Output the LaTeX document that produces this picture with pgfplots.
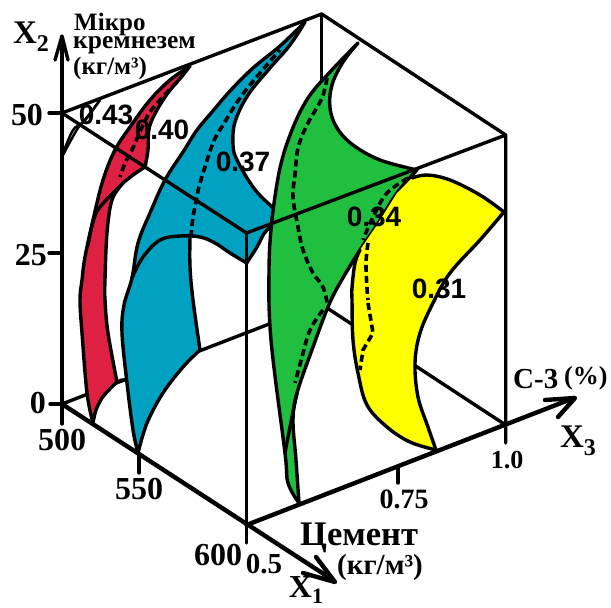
\documentclass[border=0pt]{standalone}
\usepackage{fontspec}
\setmainfont{Liberation Serif}
\newfontfamily\arial{Liberation Sans}
\usepackage{pgfplots}
\pgfplotsset{compat=1.18}
\definecolor{cred}{HTML}{DE2042}
\definecolor{cblue}{HTML}{01A2C1}
\definecolor{cgreen}{HTML}{20BF3F}
\definecolor{cyellow}{HTML}{FFFF00}
\definecolor{cgrey}{HTML}{C4C4C4}
\newcommand\ser[1]{\fontsize{#1}{#1}\selectfont\bfseries}
\newcommand\val[1]{\fontsize{28}{28}\selectfont\arial\bfseries #1}
\pgfplotsset{
  area/.style={draw=none,mark=none,forget plot},
  edge/.style={black,line width=3.4pt,mark=none,line join=round,line cap=round},
  curve/.style={edge,smooth,tension=0.6},
  dash/.style={black,line width=3.6pt,mark=none,smooth,tension=0.6,dash pattern=on 7pt off 4pt},
  thick edge/.style={edge,line width=4.4pt},
}
\begin{document}
\begin{tikzpicture}
\begin{axis}[
  scale only axis,width=611pt,height=608pt,
  xmin=0,xmax=611,ymin=0,ymax=608,
  y dir=reverse,hide axis,clip=false,
]
\path (axis cs:0,0) rectangle (axis cs:611,608);
% hidden box edges
\addplot[edge] coordinates {(62,404) (321,304) (505.7,425)};
\addplot[edge] coordinates {(321.7,14) (321.7,304)};
\addplot[edge] coordinates {(62,113) (321.7,14) (505.7,135) (505.7,443)};
% 0.43
\addplot[fill=cgrey,area] coordinates {(63,153) (73,130) (83,122) (100,100) (87,118) (78,128)};
\addplot[curve,line width=2.4pt] coordinates {(63,153) (73,130) (83,122) (100,100)};
\addplot[curve,line width=2.4pt] coordinates {(63,155) (78,128) (87,118) (100,100)};
% 0.40 red
\addplot[fill=cred,area] coordinates {(190,66) (170,80) (150,100) (130,127) (115,150) (103,180) (93,220) (85,257) (82,280) (80,300) (82,333) (87,393) (93,423)
  (96,410) (102,398) (108,391) (117,382) (108,333) (105,300) (105,280) (107,233) (112,200) (123,183) (133,175) (145,167) (148,150) (150,125) (165,97) (183,75)};
\addplot[curve] coordinates {(190,66) (170,80) (150,100) (130,127) (115,150) (103,180) (93,220) (85,257) (82,280) (80,300) (82,333) (87,393) (93,423)};
\addplot[curve] coordinates {(93,423) (96,410) (102,398) (108,391) (117,382) (123,380)};
\addplot[curve] coordinates {(117,382) (108,333) (105,300) (105,280) (107,233) (112,200) (123,183)};
\addplot[curve] coordinates {(123,183) (133,175) (145,167)};
\addplot[curve] coordinates {(145,167) (148,150) (150,125) (165,97) (183,75) (190,66)};
\addplot[curve] coordinates {(123,183) (100,207) (93,222) (88,245)};
\addplot[dash] coordinates {(177,82) (160,100) (147,117) (132,150) (125,163) (120,177)};
% 0.37 blue
\addplot[fill=cblue,area] coordinates {(305,22) (290,45) (270,68) (248,95) (235,122) (233,145) (237,160) (253,187) (270,205) (287,218) (267,230) (257,247) (246.7,263)
  (230,253) (215,243) (200,237) (190,237) (190,267) (193,300) (200,350) (183,367) (163,393) (147,423) (138,453)
  (133,430) (127,383) (122,333) (124,305) (132,278) (138,243) (150,213) (165,180) (183,152) (197,130) (212,112) (230,91) (253,68) (280,46)};
\addplot[curve] coordinates {(305,22) (290,45) (270,68) (248,95) (235,122) (233,145) (237,160) (253,187) (270,205) (287,218)};
\addplot[curve] coordinates {(287,218) (267,230) (257,247) (246.7,263)};
\addplot[curve] coordinates {(246.7,263) (230,253) (215,243) (200,237) (180,236) (160,240) (143,257) (132,278)};
\addplot[curve] coordinates {(190,237) (190,267) (193,300) (200,350)};
\addplot[curve] coordinates {(200,350) (183,367) (163,393) (147,423) (138,453)};
\addplot[curve] coordinates {(138,453) (133,430) (127,383) (122,333) (124,305) (132,278) (138,243) (150,213) (165,180) (183,152) (197,130) (212,112) (230,91) (253,68) (280,46) (305,22)};
\addplot[dash] coordinates {(191,237) (193,217) (197,197) (200,183) (213,143) (223,125) (240,98) (260,73) (280,50)};
\addplot[dash,line width=1.5pt] coordinates {(272,213) (270,228)};
% 0.34 green
\addplot[fill=cgreen,area] coordinates {(358,43) (343,62) (332,85) (330,108) (337,128) (353,145) (380,160) (417,170)
  (397,193) (377,225) (360,250) (340,283) (328,307) (313,347) (297,393) (293,420) (296,460) (299,503)
  (288,483) (285,453) (271,340) (269,270) (272,220) (280,168) (292,130) (308,98) (330,72)};
\addplot[curve] coordinates {(358,43) (343,62) (332,85) (330,108) (337,128) (353,145) (380,160) (417,170)};
\addplot[curve] coordinates {(417,170) (397,193) (377,225) (360,250) (340,283) (328,307) (313,347) (297,393) (293,420) (296,460) (299,503)};
\addplot[curve] coordinates {(299,503) (288,483) (285,453) (271,340) (269,270) (272,220) (280,168) (292,130) (308,98) (330,72) (358,43)};
\addplot[curve] coordinates {(297,393) (290,427) (285,453)};
\addplot[dash] coordinates {(327,78) (322,98) (307,125) (298,148) (295,175) (293,197) (298,227) (303,250) (313,273) (323,287) (328,307)};
\addplot[dash] coordinates {(323,310) (310,330) (302,357) (295,383)};
% 0.31 yellow
\addplot[fill=cyellow,area] coordinates {(412,178) (427,175) (450,180) (480,195) (504,212) (480,240) (450,273) (433,303) (420,333) (415,363) (418,397) (428,427) (436,450)
  (410,442) (387,427) (367,405) (358,373) (353,340) (352,300) (352,288) (355,263) (360,250) (377,225) (397,193)};
\addplot[curve] coordinates {(412,178) (427,175) (450,180) (480,195) (504,212)};
\addplot[curve] coordinates {(504,212) (480,240) (450,273) (433,303) (420,333) (415,363) (418,397) (428,427) (436,450)};
\addplot[curve] coordinates {(436,450) (410,442) (387,427) (367,405) (358,373) (353,340) (352,300) (352,288) (355,263) (360,250)};
\addplot[dash] coordinates {(408,178) (387,193) (373,217) (363,240)};
\addplot[dash] coordinates {(368,243) (366,263) (367,288) (368,300)};
\addplot[dash,smooth=false,sharp plot] coordinates {(368,303) (373,333) (363,350) (360,370)};
% visible box edges
\addplot[edge] coordinates {(62,113) (246.5,233) (505.7,135)};
\addplot[edge] coordinates {(246.5,233) (246.5,543)};
% axes and ticks
\addplot[edge] coordinates {(62,424) (62,37)};
\addplot[edge] coordinates {(55,60) (62,36) (68,60)};
\addplot[thick edge] coordinates {(62,404) (333,580)};
\addplot[thick edge] coordinates {(316,557) (335,582) (303,573)};
\addplot[thick edge] coordinates {(246.5,525) (574,398)};
\addplot[thick edge] coordinates {(545,400) (575,398) (558,417)};
\addplot[edge] coordinates {(49,113) (62,113)};
\addplot[edge] coordinates {(49,253) (62,253)};
\addplot[edge] coordinates {(50,404) (62,404)};
\addplot[edge] coordinates {(139,454) (139,473)};
\addplot[edge] coordinates {(398,467) (398,483)};
% text
\node at (axis cs:27,115) {\ser{32}50};
\node at (axis cs:31,255) {\ser{32}25};
\node at (axis cs:38,403) {\ser{32}0};
\node at (axis cs:62,440) {\ser{32}500};
\node at (axis cs:139,489) {\ser{32}550};
\node at (axis cs:218,555) {\ser{32}600};
\node at (axis cs:264,564) {\ser{29}0.5};
\node at (axis cs:404,499) {\ser{28}0.75};
\node at (axis cs:507,460) {\ser{26}1.0};
\node[anchor=west,inner sep=0pt] at (axis cs:74,24) {\ser{25}Мікро};
\node[anchor=west,inner sep=0pt] at (axis cs:73,45) {\ser{25.5}кремнезем};
\node[anchor=west,inner sep=0pt] at (axis cs:73,68) {\ser{25}(кг/м³)};
\node[anchor=west,inner sep=0pt] at (axis cs:300,538) {\ser{34.5}Цемент};
\node[anchor=west,inner sep=0pt] at (axis cs:337,568) {\ser{29}(кг/м³)};
\node[anchor=west,inner sep=0pt] at (axis cs:513,379) {\ser{29}С-3};
\node[anchor=west,inner sep=0pt] at (axis cs:564,378) {\ser{26}(\%)};
\node at (axis cs:31,37) {\ser{33}X\raisebox{-0.25em}{\ser{24}2}};
\node at (axis cs:578,441) {\ser{33}X\raisebox{-0.25em}{\ser{24}3}};
\node at (axis cs:306,590) {\ser{32}X\raisebox{-0.2em}{\ser{22}1}};
\node at (axis cs:106,115) {\val{0.43}};
\node at (axis cs:162,130) {\val{0.40}};
\node at (axis cs:243,162) {\val{0.37}};
\node at (axis cs:374,217) {\val{0.34}};
\node at (axis cs:439,289) {\val{0.31}};
\end{axis}
\end{tikzpicture}
\end{document}
